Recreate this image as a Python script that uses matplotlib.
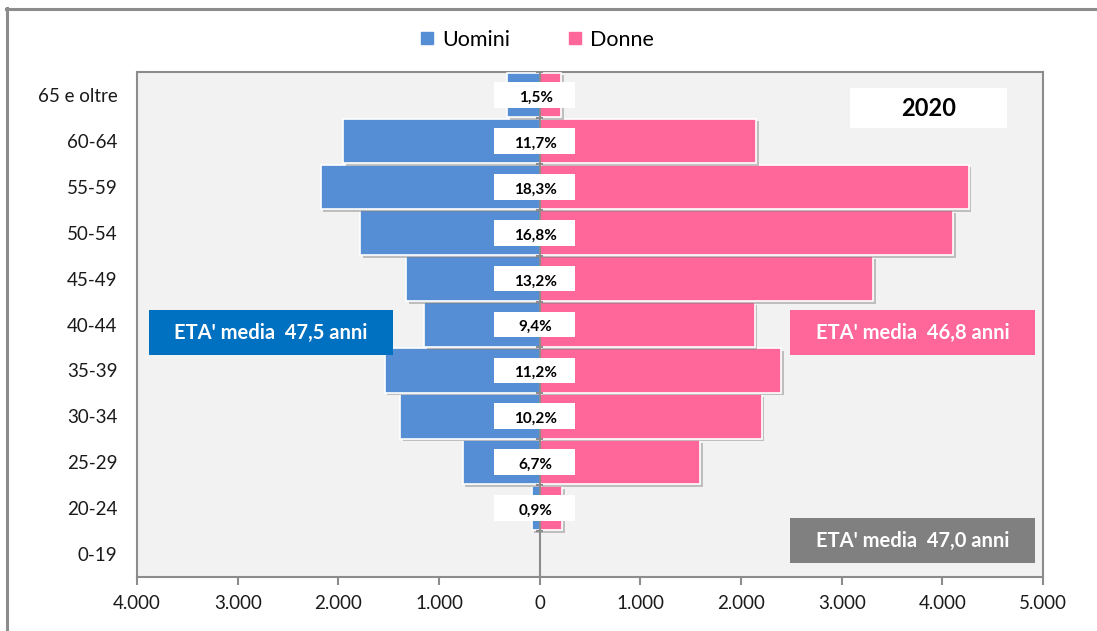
import matplotlib
matplotlib.use("Agg")
import matplotlib.pyplot as plt
from matplotlib.patches import Rectangle
from matplotlib.lines import Line2D
from matplotlib.ticker import FuncFormatter, FixedLocator
import matplotlib.patheffects as pe

plt.rcParams['font.family'] = ['Lato', 'DejaVu Sans']

categorie = ['0-19', '20-24', '25-29', '30-34', '35-39', '40-44',
             '45-49', '50-54', '55-59', '60-64', '65 e oltre']
uomini = [0, 80, 765, 1390, 1540, 1150, 1330, 1780, 2175, 1950, 320]
donne = [0, 220, 1590, 2205, 2395, 2135, 3310, 4110, 4260, 2150, 210]
percentuali = ['', '0,9%', '6,7%', '10,2%', '11,2%', '9,4%',
               '13,2%', '16,8%', '18,3%', '11,7%', '1,5%']
x_ticks = [-4000, -3000, -2000, -1000, 0, 1000, 2000, 3000, 4000, 5000]
anno = '2020'
eta_uomini = "ETA' media  47,5 anni"
eta_donne = "ETA' media  46,8 anni"
eta_totale = "ETA' media  47,0 anni"

C_U = '#558ED5'
C_D = '#FF6699'
GRID = '#8C8C8C'

W, H = 1097, 631
fig = plt.figure(figsize=(W / 100, H / 100), dpi=100)
fig.patch.set_facecolor('white')
fig.patch.set_linewidth(0)

def fx(px):
    return px / W

def fy(py):
    return 1 - py / H

ax = fig.add_axes([fx(137), fy(577), fx(1043) - fx(137), fy(72) - fy(577)])
ax.set_facecolor('#F2F2F2')

y = list(range(len(categorie)))
shadow = [pe.SimplePatchShadow(offset=(2, -2), shadow_rgbFace='#7F7F7F', alpha=0.45), pe.Normal()]
bu = ax.barh(y, [-v for v in uomini], height=0.97, color=C_U, edgecolor='white',
             linewidth=1.2, zorder=3)
bd = ax.barh(y, donne, height=0.97, color=C_D, edgecolor='white',
             linewidth=1.2, zorder=3)
for b in list(bu) + list(bd):
    if b.get_width() != 0:
        b.set_path_effects(shadow)

ax.axvline(0, color=GRID, lw=1.5, zorder=4)
ax.hlines([i - 0.5 for i in range(len(categorie) + 1)], -35, 35, color=GRID, lw=1.5, zorder=4)

# percentage labels with white boxes
for yi, p in zip(y, percentuali):
    if not p:
        continue
    ax.add_patch(Rectangle((-450, yi - 0.28), 800, 0.56, facecolor='white',
                           edgecolor='none', zorder=5))
    ax.text(-40, yi - 0.06, p, ha='center', va='center', fontsize=11,
            fontweight='bold', color='black', zorder=6)

ax.set_xlim(-4000, 5000)
ax.set_ylim(-0.5, len(categorie) - 0.5)
ax.xaxis.set_major_locator(FixedLocator(x_ticks))
ax.xaxis.set_major_formatter(FuncFormatter(lambda v, p: f"{abs(int(v)):,}".replace(',', '.')))
ax.set_yticks(y)
ax.set_yticklabels(categorie)
ax.tick_params(axis='y', length=0, pad=14, labelsize=13.5, labelcolor='#1a1a1a')
ax.tick_params(axis='x', length=6, width=1.5, color=GRID, direction='out', pad=7,
               labelsize=13.5, labelcolor='#1a1a1a')
for s in ax.spines.values():
    s.set_color(GRID)
    s.set_linewidth(1.5)

# legend
handles = [Line2D([], [], marker='s', linestyle='none', markersize=9, color=C_U),
           Line2D([], [], marker='s', linestyle='none', markersize=9, color=C_D)]
fig.legend(handles, ['Uomini', 'Donne'], loc='center', bbox_to_anchor=(fx(536), fy(40)),
           ncol=2, frameon=False, fontsize=15.5, handlelength=0.8, handletextpad=0.3,
           columnspacing=2.6)

# annotation boxes (figure coords)
def box(x0, y0, x1, y1, fc, text, tc, fs):
    fig.add_artist(Rectangle((fx(x0), fy(y1)), fx(x1) - fx(x0), fy(y0) - fy(y1),
                             transform=fig.transFigure, facecolor=fc, edgecolor='none',
                             zorder=10))
    fig.text((fx(x0) + fx(x1)) / 2, (fy(y0) + fy(y1)) / 2, text, ha='center', va='center',
             color=tc, fontsize=fs, fontweight='bold', zorder=11)

box(149, 310, 393, 355, '#0070C0', eta_uomini, 'white', 14.5)
box(790, 310, 1035, 355, C_D, eta_donne, 'white', 14.5)
box(790, 518, 1035, 563, '#808080', eta_totale, 'white', 14.5)
box(850, 88, 1007, 128, 'white', anno, 'black', 17)

# outer frame: left and top edges only
fig.add_artist(Line2D([fx(7), fx(7)], [0.0, fy(8)], transform=fig.transFigure,
                      color='#8C8C8C', lw=2.2, zorder=20))
fig.add_artist(Line2D([fx(6), 1.0], [fy(9), fy(9)], transform=fig.transFigure,
                      color='#8C8C8C', lw=2.2, zorder=20))

fig.savefig('out.png', dpi=100, facecolor='white')
